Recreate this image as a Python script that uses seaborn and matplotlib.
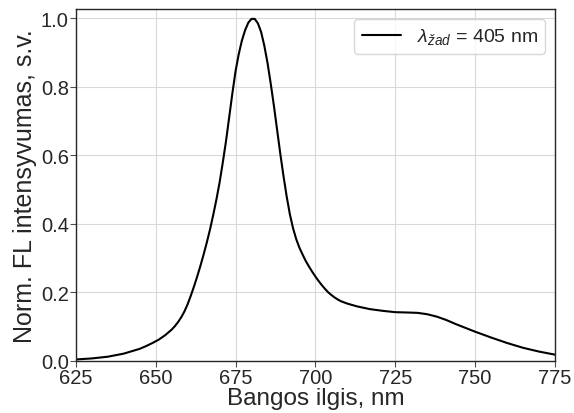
import seaborn as sns
import pandas as pd
import matplotlib.pyplot as plt

# wavelength (nm) and normalised FL intensity
wavelength = [625, 630, 635, 640, 645, 647, 649, 651, 653, 655, 656, 657, 658,
              659, 660, 661, 662, 663, 664, 665, 666, 667, 668, 669, 670, 671,
              672, 673, 674, 675, 676, 677, 678, 679, 680, 681, 682, 683, 684,
              685, 686, 687, 688, 689, 690, 691, 692, 693, 694, 695, 696, 697,
              698, 699, 700, 701, 702, 703, 704, 705, 706, 707, 708, 710, 713,
              717, 721, 725, 729, 732, 735, 738, 741, 744, 747, 750, 755, 760,
              765, 770, 775]
intensity = [0.004, 0.007, 0.012, 0.021, 0.035, 0.043, 0.052, 0.062, 0.075, 0.091,
             0.101, 0.113, 0.127, 0.144, 0.165, 0.190, 0.217, 0.246, 0.277, 0.310,
             0.345, 0.383, 0.425, 0.470, 0.520, 0.578, 0.640, 0.710, 0.780, 0.845,
             0.895, 0.935, 0.965, 0.987, 0.998, 0.998, 0.985, 0.960, 0.920, 0.870,
             0.810, 0.745, 0.675, 0.605, 0.540, 0.480, 0.428, 0.387, 0.355, 0.330,
             0.310, 0.291, 0.275, 0.260, 0.246, 0.233, 0.221, 0.210, 0.200, 0.192,
             0.185, 0.179, 0.174, 0.167, 0.159, 0.151, 0.146, 0.142, 0.141, 0.140,
             0.136, 0.129, 0.119, 0.107, 0.096, 0.085, 0.068, 0.052, 0.038, 0.027,
             0.018]

label = r'$\lambda_{žad}$ = 405 nm'

sns.set_style('whitegrid', {'axes.edgecolor': '0.15', 'grid.color': '0.85',
                            'xtick.bottom': True, 'ytick.left': True})
plt.rcParams['font.family'] = ['Liberation Sans', 'DejaVu Sans']
plt.rcParams['mathtext.fontset'] = 'custom'
plt.rcParams['mathtext.rm'] = 'Liberation Sans'
plt.rcParams['mathtext.it'] = 'Liberation Sans:italic'

df = pd.DataFrame({'x': wavelength, 'y': intensity})

fig, ax = plt.subplots(figsize=(5.74, 4.14), dpi=100)
sns.lineplot(data=df, x='x', y='y', color='black', linewidth=1.5, label=label, ax=ax)

ax.set_xlim(625, 775)
ax.set_ylim(0, 1.027)
ax.set_xticks([625, 650, 675, 700, 725, 750, 775])
ax.set_yticks([0.0, 0.2, 0.4, 0.6, 0.8, 1.0])
ax.tick_params(labelsize=14.5, length=4, width=0.8, color='0.3', pad=1)
ax.set_xlabel('Bangos ilgis, nm', fontsize=17.5, labelpad=0)
ax.set_ylabel('Norm. FL intensyvumas, s.v.', fontsize=18, labelpad=3)
for s in ax.spines.values():
    s.set_linewidth(1.0)
ax.legend(loc='upper right', fontsize=14, handlelength=2.0, fancybox=True)

fig.subplots_adjust(left=0.132, right=0.967, top=0.976, bottom=0.126)
fig.savefig('out.png')
